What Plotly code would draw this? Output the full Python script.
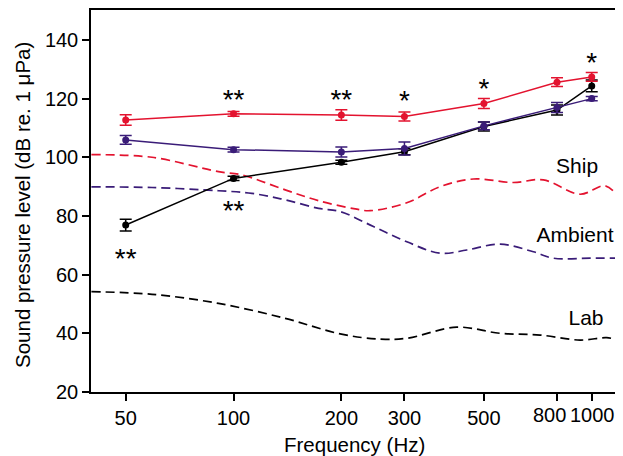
import plotly.graph_objects as go
import numpy as np

freqs = [50, 100, 200, 300, 500, 800, 1000]
freq_ticks = [50, 100, 200, 300, 500, 800, 1000]
freq_tick_text = ["50", "100", "200", "300", "500", "800", "1000"]
db_ticks = [20, 40, 60, 80, 100, 120, 140]

ship_fish = [112.7, 114.8, 114.4, 113.9, 118.3, 125.6, 127.4]
ship_err = [1.8, 0.8, 1.8, 1.5, 1.7, 1.5, 1.5]
ambient_fish = [105.9, 102.6, 101.8, 103.0, 110.7, 117.0, 120.0]
ambient_err = [1.5, 0.8, 1.7, 2.2, 1.3, 1.7, 0.7]
lab_fish = [76.9, 92.8, 98.3, 101.9, 110.5, 116.1, 124.3]
lab_err = [2.0, 0.7, 0.7, 1.0, 1.5, 1.7, 2.0]

ship_noise_f = [40.1, 59.2, 90.8, 105.5, 139.4, 172.7, 218.6, 240.7, 304.6, 377.4, 467.3, 604.2, 732.8, 927.5, 1089, 1184]
ship_noise_db = [100.9, 100.0, 95.1, 94.0, 88.9, 85.2, 82.4, 81.8, 84.5, 90.0, 92.6, 91.4, 92.3, 87.4, 90.3, 86.8]
amb_noise_f = [40.1, 59.2, 90.8, 112.5, 139.4, 172.7, 198.5, 245.8, 304.6, 377.4, 448.0, 554.7, 687.3, 781.5, 989, 1184]
amb_noise_db = [89.9, 89.7, 88.6, 87.7, 85.5, 82.6, 81.5, 76.4, 71.2, 67.3, 68.4, 70.4, 67.8, 65.6, 65.6, 65.6]
lab_noise_f = [40.1, 59.2, 90.8, 139.4, 198.5, 256.7, 304.6, 420.2, 554.7, 717.6, 927.5, 1101, 1184]
lab_noise_db = [54.2, 53.3, 50.2, 45.1, 39.8, 38.0, 38.3, 42.1, 40.0, 39.4, 37.7, 38.5, 37.7]

star_f = [50, 100, 100, 200, 300, 500, 1000]
star_db = [64.5, 118.7, 81.0, 118.7, 118.5, 122.7, 131.6]
star_txt = ["**", "**", "**", "**", "*", "*", "*"]

label_f = [910, 898, 964]
label_db = [96.3, 72.9, 44.5]
label_txt = ["Ship", "Ambient", "Lab"]

RED = "#e3132f"
PURPLE = "#3a1c78"
BLACK = "#000000"
FONT = "Liberation Sans, Arial, sans-serif"

fig = go.Figure()

for f, d, c in [(ship_noise_f, ship_noise_db, RED), (amb_noise_f, amb_noise_db, PURPLE), (lab_noise_f, lab_noise_db, BLACK)]:
    fig.add_trace(go.Scatter(x=f, y=d, mode="lines",
                             line=dict(color=c, width=1.7, dash="9px,5px", shape="spline", smoothing=1.0),
                             showlegend=False, hoverinfo="skip"))

for y, e, c in [(lab_fish, lab_err, BLACK), (ambient_fish, ambient_err, PURPLE), (ship_fish, ship_err, RED)]:
    fig.add_trace(go.Scatter(x=freqs, y=y, mode="lines+markers",
                             line=dict(color=c, width=1.5),
                             marker=dict(color=c, size=7),
                             error_y=dict(type="data", array=e, visible=True, color=c, thickness=1.5, width=6),
                             showlegend=False))

fig.add_trace(go.Scatter(x=star_f, y=star_db, mode="text", text=star_txt,
                         textfont=dict(family=FONT, size=28, color="black"),
                         textposition="middle center", showlegend=False))
fig.add_trace(go.Scatter(x=label_f, y=label_db, mode="text", text=label_txt,
                         textfont=dict(family=FONT, size=21, color="black"),
                         textposition="middle center", showlegend=False))

# the two crowded labels (800, 1000) are drawn as nudged annotations, like the reference
axis_text = [t if v < 800 else "" for v, t in zip(freq_ticks, freq_tick_text)]
fig.update_xaxes(type="log", range=[np.log10(40), np.log10(1184)],
                 tickvals=freq_ticks, ticktext=axis_text, tickangle=0,
                 ticks="outside", ticklen=7, tickwidth=1.5, tickcolor="black",
                 showline=True, linecolor="black", linewidth=1.5, mirror=True,
                 showgrid=False, zeroline=False, automargin=False,
                 tickfont=dict(family=FONT, size=20, color="black"))
for v, t in zip(freq_ticks, freq_tick_text):
    if v >= 800:
        fig.add_annotation(text=t, xref="x", yref="paper", x=np.log10(v), y=0,
                           yshift=-23, xshift=(-8 if v == 800 else 1),
                           xanchor="center", yanchor="middle", showarrow=False,
                           font=dict(family=FONT, size=20, color="black"))

fig.update_yaxes(range=[20, 150.2], tickvals=db_ticks,
                 ticks="outside", ticklen=7, tickwidth=1.5, tickcolor="black",
                 showline=True, linecolor="black", linewidth=1.5, mirror=True,
                 showgrid=False, zeroline=False, automargin=False,
                 tickfont=dict(family=FONT, size=20, color="black"))

fig.add_annotation(text="Frequency (Hz)", xref="paper", yref="paper", x=0.5, y=0,
                   yshift=-52, yanchor="middle", xanchor="center", showarrow=False,
                   font=dict(family=FONT, size=20.5, color="black"))
fig.add_annotation(text="Sound pressure level (dB re. 1 μPa)", xref="paper", yref="paper",
                   x=0, xshift=-69, y=0.5, yshift=-4, textangle=-90, xanchor="center", yanchor="middle",
                   showarrow=False, font=dict(family=FONT, size=20.5, color="black"))

# the page body has an 8px margin, so the figure is shrunk by 8px to keep the same pixel layout
fig.update_layout(width=615, height=448, margin=dict(l=83, r=5, t=2, b=64),
                  plot_bgcolor="white", paper_bgcolor="white",
                  font=dict(family=FONT, color="black"))

fig.write_html("out.html")
